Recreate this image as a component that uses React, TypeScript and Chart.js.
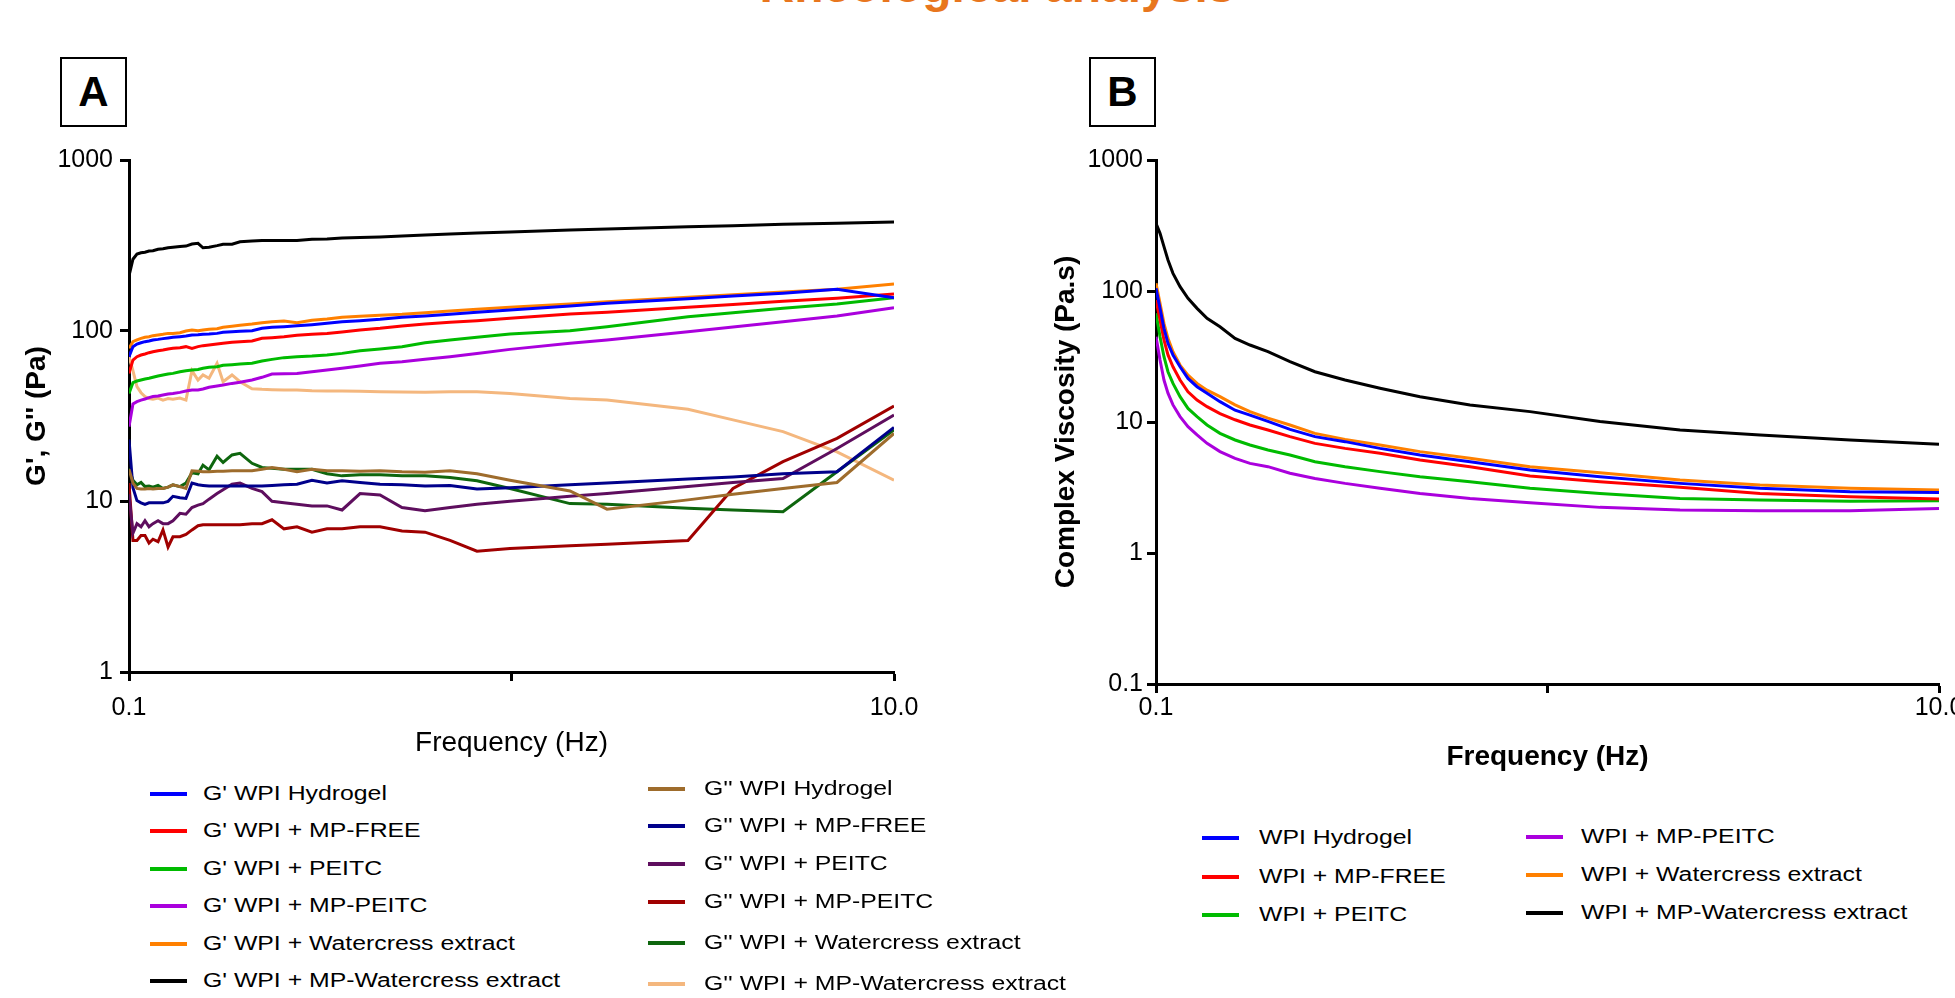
import React, { useEffect, useRef } from "react";
import { Chart, registerables } from "chart.js";

Chart.register(...registerables);

const FONT = '"Liberation Sans", Arial, Helvetica, sans-serif';

// ---------------- Panel A : G' and G'' (Pa) vs frequency (Hz) ----------------
const freqA = [
  0.1, 0.1024, 0.1049, 0.1075, 0.1101, 0.1128, 0.1155, 0.1191, 0.1227, 0.1265,
  0.1303, 0.1359, 0.1409, 0.1461, 0.1515, 0.1561, 0.1619, 0.1699, 0.1762, 0.1859,
  0.1951, 0.2097, 0.2227, 0.2365, 0.2542, 0.2749, 0.3008, 0.3294, 0.3606, 0.4018,
  0.4532, 0.5173, 0.5941, 0.6906, 0.8123, 0.991, 1.422, 1.777, 2.893, 3.794,
  5.126, 7.095, 10,
];

const gpHydrogel = [
  70.4, 80.6, 83.5, 85.0, 86.2, 87.0, 88.2, 88.9, 89.8, 90.6, 91.4, 92.2, 93.0, 94.3, 94.7, 95.2,
  95.6, 96.4, 97.8, 98.6, 99.1, 100.0, 103.2, 104.6, 105.5, 106.9, 108.4, 110.4, 112.9, 114.5,
  116.5, 119.7, 121.9, 124.6, 128.1, 132.2, 139.5, 144.6, 154.0, 159.7, 165.5, 174.7, 156.1,
];
const gpMpFree = [
  56.2, 67.3, 70.4, 72.0, 73.0, 74.3, 75.3, 76.3, 77.0, 78.1, 78.8, 79.5, 80.6, 78.8, 80.6, 81.7,
  82.4, 83.5, 84.3, 85.4, 86.2, 87.0, 90.2, 91.0, 92.2, 93.9, 95.2, 96.4, 98.2, 100.9,
  103.2, 106.5, 109.4, 111.9, 114.5, 118.1, 125.2, 128.1, 137.0, 142.3, 148.5, 154.7, 164.0,
];
const gpPeitc = [
  42.9, 49.6, 50.7, 51.4, 52.1, 52.6, 53.3, 54.2, 55.0, 55.7, 56.2, 57.5, 58.3, 58.8, 59.3, 60.2,
  61.0, 61.5, 62.7, 63.2, 63.8, 64.4, 66.4, 67.9, 69.5, 70.4, 71.0, 72.0, 73.6, 76.3,
  78.1, 80.6, 85.0, 88.2, 91.4, 95.6, 100.0, 105.5, 120.8, 127.5, 135.1, 143.3, 156.1,
];
const gpMpPeitc = [
  27.4, 37.2, 38.4, 39.2, 39.8, 40.5, 41.1, 41.4, 42.0, 42.6, 42.9, 43.5, 44.3, 44.9, 44.9, 45.5,
  46.6, 47.4, 48.0, 49.1, 49.8, 51.4, 53.3, 55.7, 56.0, 56.2, 57.5, 58.8, 60.2, 62.1,
  64.4, 65.8, 67.9, 70.4, 73.6, 77.7, 84.3, 88.2, 98.6, 105.1, 112.9, 121.9, 136.4,
];
const gpWatercress = [
  78.8, 86.2, 88.2, 90.2, 91.4, 92.2, 93.5, 94.3, 95.2, 96.4, 96.4, 97.3, 99.5, 100.9, 100.0, 100.9,
  101.8, 102.7, 104.6, 106.0, 107.5, 109.4, 111.4, 112.9, 113.9, 111.4, 115.0, 117.0, 119.7, 121.3,
  123.0, 124.6, 127.5, 130.4, 133.4, 137.0, 143.3, 147.9, 156.8, 162.2, 168.5, 174.7, 187.7,
];
const gpMpWatercress = [
  209, 262, 281, 286, 288, 293, 294, 300, 302, 306, 308, 311, 313, 322, 325, 306,
  308, 315, 321, 321, 332, 335, 337, 338, 337, 337, 343, 344, 349, 351,
  354, 359, 364, 368, 373, 379, 389, 394, 407, 412, 420, 426, 433,
];
const gppHydrogel = [
  15.4, 12.8, 11.9, 11.8, 11.8, 11.9, 11.8, 11.9, 11.9, 12.1, 12.5, 12.2, 11.9, 15.1, 15.0, 14.9,
  14.9, 15.0, 15.0, 15.1, 15.1, 15.1, 15.4, 15.8, 15.4, 14.9, 15.4, 15.1, 15.1, 15.0,
  15.1, 14.9, 14.8, 15.1, 14.5, 13.3, 11.5, 9.0, 10.2, 11.0, 11.9, 12.9, 25.0,
];
const gppMpFree = [
  23.0, 12.0, 10.1, 9.8, 9.6, 9.8, 9.8, 9.8, 9.8, 10.0, 10.7, 10.5, 10.4, 12.8, 12.5, 12.4,
  12.3, 12.3, 12.3, 12.3, 12.3, 12.3, 12.3, 12.4, 12.5, 12.6, 13.3, 12.8, 13.2, 12.9,
  12.6, 12.5, 12.3, 12.4, 11.8, 12.0, 12.5, 12.8, 13.5, 13.9, 14.5, 14.9, 27.1,
];
const gppPeitc = [
  11.0, 6.5, 7.4, 7.1, 7.7, 7.1, 7.4, 7.7, 7.4, 7.4, 7.7, 8.5, 8.4, 9.2, 9.5, 9.7,
  10.3, 11.1, 11.7, 12.6, 12.8, 11.9, 11.4, 10.0, 9.8, 9.6, 9.4, 9.4, 8.9, 11.1,
  10.9, 9.2, 8.8, 9.2, 9.6, 10.0, 10.7, 11.1, 12.2, 12.9, 13.6, 20.4, 32.0,
];
const gppMpPeitc = [
  12.8, 5.9, 5.9, 6.3, 6.3, 5.7, 6.0, 5.8, 6.8, 5.4, 6.2, 6.2, 6.4, 6.8, 7.2, 7.3,
  7.3, 7.3, 7.3, 7.3, 7.3, 7.4, 7.4, 7.8, 6.9, 7.1, 6.6, 6.9, 6.9, 7.1,
  7.1, 6.7, 6.6, 5.9, 5.1, 5.3, 5.5, 5.6, 5.9, 11.9, 17.1, 23.4, 36.2,
];
const gppWatercress = [
  15.6, 13.3, 12.5, 12.9, 12.2, 12.3, 12.1, 12.4, 11.9, 12.1, 12.5, 12.2, 12.8, 14.7, 14.5, 16.3,
  15.3, 18.4, 16.9, 18.7, 19.1, 16.7, 15.8, 15.6, 15.4, 15.4, 15.4, 14.5, 14.1, 14.3,
  14.3, 14.1, 14.1, 13.8, 13.2, 11.9, 9.7, 9.6, 9.1, 8.9, 8.7, 14.9, 26.2,
];
const gppMpWatercress = [
  70.4, 58.3, 47.0, 43.3, 41.1, 40.0, 39.6, 40.3, 39.2, 40.0, 39.6, 40.3, 39.2, 58.3, 51.4, 55.0,
  52.6, 64.4, 50.2, 55.0, 50.2, 45.7, 45.3, 45.1, 44.9, 44.9, 44.5, 44.3, 44.3, 44.1,
  43.9, 43.7, 43.5, 43.9, 43.9, 42.9, 40.1, 39.2, 34.6, 30.0, 25.6, 19.5, 13.3,
];

const labelsA = [
  "G' WPI Hydrogel",
  "G' WPI + MP-FREE",
  "G' WPI + PEITC",
  "G' WPI + MP-PEITC",
  "G' WPI + Watercress extract",
  "G' WPI + MP-Watercress extract",
  "G'' WPI Hydrogel",
  "G'' WPI + MP-FREE",
  "G'' WPI + PEITC",
  "G'' WPI + MP-PEITC",
  "G'' WPI + Watercress extract",
  "G'' WPI + MP-Watercress extract",
];
const colorsA = [
  "#0000FF", "#FF0000", "#00BB00", "#AA00DD", "#FF8000", "#000000",
  "#9E6C2C", "#00008B", "#5E0E5E", "#A00000", "#0E660E", "#F4B77E",
];
const valuesA = [
  gpHydrogel, gpMpFree, gpPeitc, gpMpPeitc, gpWatercress, gpMpWatercress,
  gppHydrogel, gppMpFree, gppPeitc, gppMpPeitc, gppWatercress, gppMpWatercress,
];

// ---------------- Panel B : complex viscosity (Pa.s) ----------------
const freqB = [
  0.1, 0.1024, 0.1048, 0.1073, 0.1105, 0.1152, 0.1207, 0.1273, 0.135, 0.1457,
  0.1592, 0.1738, 0.1932, 0.2199, 0.2547, 0.304, 0.3734, 0.4725, 0.634, 0.9023,
  1.362, 2.18, 3.49, 5.926, 10,
];
const etaHydrogel = [
  104.8, 73.7, 51.9, 39.9, 32.5, 26.4, 21.5, 18.6, 16.6, 14.3, 12.3, 11.3, 10.1,
  8.79, 7.73, 7.08, 6.29, 5.6, 4.98, 4.3, 3.82, 3.4, 3.12, 2.94, 2.89,
];
const etaMpFree = [
  85.4, 60.0, 42.3, 32.5, 26.4, 20.9, 17.0, 14.7, 13.1, 11.6, 10.4, 9.49, 8.69,
  7.73, 6.87, 6.29, 5.77, 5.13, 4.56, 3.87, 3.5, 3.17, 2.85, 2.69, 2.58,
];
const etaPeitc = [
  67.5, 44.8, 31.5, 24.2, 19.7, 15.6, 12.7, 11.0, 9.49, 8.19, 7.29, 6.67, 6.11,
  5.6, 4.98, 4.56, 4.18, 3.82, 3.5, 3.12, 2.85, 2.61, 2.54, 2.48, 2.5,
];
const etaMpPeitc = [
  44.8, 29.7, 20.9, 16.6, 13.5, 11.0, 9.21, 7.96, 6.87, 5.94, 5.28, 4.83, 4.56,
  4.06, 3.71, 3.4, 3.12, 2.85, 2.61, 2.42, 2.23, 2.13, 2.1, 2.1, 2.19,
];
const etaWatercress = [
  114.4, 80.5, 56.6, 43.5, 34.4, 27.2, 22.8, 19.7, 17.5, 15.6, 13.5, 12.0, 10.7,
  9.49, 8.19, 7.37, 6.67, 5.94, 5.28, 4.56, 4.1, 3.61, 3.3, 3.12, 3.03,
];
const etaMpWatercress = [
  328.5, 275.6, 218.0, 172.5, 136.4, 107.9, 87.9, 73.7, 61.8, 53.4, 43.5, 38.7, 34.4,
  28.9, 24.2, 20.9, 18.1, 15.6, 13.5, 12.0, 10.1, 8.7, 7.96, 7.29, 6.75,
];

const labelsB = [
  "WPI Hydrogel",
  "WPI + MP-FREE",
  "WPI + PEITC",
  "WPI + MP-PEITC",
  "WPI + Watercress extract",
  "WPI + MP-Watercress extract",
];
const colorsB = ["#0000FF", "#FF0000", "#00BB00", "#AA00DD", "#FF8000", "#000000"];
const valuesB = [etaHydrogel, etaMpFree, etaPeitc, etaMpPeitc, etaWatercress, etaMpWatercress];

// ---------------- ticks ----------------
const xTicks = [0.1, 1, 10];
const xTickLabels = ["0.1", "", "10.0"];
const yTicksA = [1, 10, 100, 1000];
const yTickLabelsA = ["1", "10", "100", "1000"];
const yTicksB = [0.1, 1, 10, 100, 1000];
const yTickLabelsB = ["0.1", "1", "10", "100", "1000"];

function labelFor(v: number, ticks: number[], labels: string[]) {
  for (let i = 0; i < ticks.length; i++) {
    if (Math.abs(Math.log10(v) - Math.log10(ticks[i])) < 1e-6) return labels[i];
  }
  return "";
}

function makeDatasets(freq: number[], values: number[][], labels: string[], colors: string[]) {
  return values.map((vals, k) => ({
    label: labels[k],
    data: freq.map((f, i) => ({ x: f, y: vals[i] })),
    borderColor: colors[k],
    backgroundColor: colors[k],
    borderWidth: 3,
    pointRadius: 0,
    pointHoverRadius: 0,
    tension: 0,
    fill: false,
  }));
}

type AxisOpts = {
  min: number;
  max: number;
  ticks: number[];
  labels: string[];
  fitSize: number;
  horizontal: boolean;
  tickPad: number;
  title: string;
  titleSize: number;
  titleBold: boolean;
  titlePad: any;
};

function logAxis(o: AxisOpts): any {
  return {
    type: "logarithmic",
    min: o.min,
    max: o.max,
    afterBuildTicks: (s: any) => {
      s.ticks = o.ticks.map((v) => ({ value: v }));
    },
    afterFit: (s: any) => {
      if (o.horizontal) s.height = o.fitSize;
      else s.width = o.fitSize;
      s.paddingLeft = 0;
      s.paddingRight = 0;
      s.paddingTop = 0;
      s.paddingBottom = 0;
    },
    ticks: {
      autoSkip: false,
      maxRotation: 0,
      minRotation: 0,
      padding: o.tickPad,
      color: "#000",
      font: { family: FONT, size: 25 },
      callback: (v: any) => labelFor(Number(v), o.ticks, o.labels),
    },
    grid: {
      display: true,
      drawOnChartArea: false,
      drawTicks: true,
      tickLength: 9,
      tickWidth: 3,
      tickColor: "#000",
    },
    border: { display: true, color: "#000", width: 3 },
    title: {
      display: true,
      text: o.title,
      color: "#000",
      font: { family: FONT, size: o.titleSize, weight: o.titleBold ? "bold" : "normal" },
      padding: o.titlePad,
    },
  };
}

const CANVAS_H = 780;

export default function App() {
  const refA = useRef<HTMLCanvasElement | null>(null);
  const refB = useRef<HTMLCanvasElement | null>(null);

  useEffect(() => {
    document.body.style.margin = "0";
    const common = {
      animation: false,
      responsive: false,
      maintainAspectRatio: false,
      events: [],
      plugins: { legend: { display: false }, tooltip: { enabled: false } },
    };
    const chartA = new Chart(refA.current as HTMLCanvasElement, {
      type: "line",
      data: { datasets: makeDatasets(freqA, valuesA, labelsA, colorsA) as any },
      options: {
        ...common,
        layout: { padding: { left: 0, top: 160, right: 66, bottom: 0 } },
        scales: {
          x: logAxis({
            min: 0.1, max: 10, ticks: xTicks, labels: xTickLabels,
            fitSize: CANVAS_H - 672, horizontal: true, tickPad: 12,
            title: "Frequency (Hz)", titleSize: 28, titleBold: false,
            titlePad: { top: 0, bottom: 20 },
          }),
          y: logAxis({
            min: 1, max: 1000, ticks: yTicksA, labels: yTickLabelsA,
            fitSize: 129, horizontal: false, tickPad: 7,
            title: "G', G'' (Pa)", titleSize: 28, titleBold: true,
            titlePad: { top: 20, bottom: 0 },
          }),
        },
      } as any,
    });
    const chartB = new Chart(refB.current as HTMLCanvasElement, {
      type: "line",
      data: { datasets: makeDatasets(freqB, valuesB, labelsB, colorsB) as any },
      options: {
        ...common,
        layout: { padding: { left: 0, top: 160, right: 16, bottom: 0 } },
        scales: {
          x: logAxis({
            min: 0.1, max: 10, ticks: xTicks, labels: xTickLabels,
            fitSize: CANVAS_H - 684, horizontal: true, tickPad: 0,
            title: "Frequency (Hz)", titleSize: 28, titleBold: true,
            titlePad: { top: 0, bottom: 6 },
          }),
          y: logAxis({
            min: 0.1, max: 1000, ticks: yTicksB, labels: yTickLabelsB,
            fitSize: 196, horizontal: false, tickPad: 4,
            title: "Complex Viscosity (Pa.s)", titleSize: 28, titleBold: true,
            titlePad: { top: 89, bottom: 0 },
          }),
        },
      } as any,
    });
    return () => {
      chartA.destroy();
      chartB.destroy();
    };
  }, []);

  const legendA = labelsA.map((label, i) => {
    const col = i < 6 ? 0 : 1;
    const rowsY = col === 0 ? [794, 831, 869, 906, 944, 981] : [789, 826, 864, 902, 943, 984];
    return { label, color: colorsA[i], lineX: col === 0 ? 150 : 648, textX: col === 0 ? 203 : 704, y: rowsY[i % 6] };
  });
  const legendB = labelsB.map((label, i) => {
    const col = i < 3 ? 0 : 1;
    const rowsY = col === 0 ? [838, 877, 915] : [837, 875, 913];
    return { label, color: colorsB[i], lineX: col === 0 ? 1202 : 1526, textX: col === 0 ? 1259 : 1581, y: rowsY[i % 3] };
  });
  const items = [...legendA, ...legendB];

  const boxStyle = (left: number): React.CSSProperties => ({
    position: "absolute",
    left,
    top: 57,
    width: 63,
    height: 66,
    border: "2px solid #000",
    background: "#fff",
    fontFamily: FONT,
    fontWeight: "bold",
    fontSize: 42,
    lineHeight: "66px",
    textAlign: "center",
    color: "#000",
  });

  return (
    <div
      style={{
        position: "absolute",
        left: 0,
        top: 0,
        width: 1955,
        height: 998,
        overflow: "hidden",
        background: "#fff",
      }}
    >
      <div
        style={{
          position: "absolute",
          left: 997,
          top: -38,
          transform: "translateX(-50%)",
          fontFamily: FONT,
          fontWeight: "bold",
          fontSize: 48,
          lineHeight: "48px",
          color: "#E8761E",
          whiteSpace: "nowrap",
        }}
      >
        Rheological analysis
      </div>
      <canvas
        ref={refA}
        width={960}
        height={CANVAS_H}
        style={{ position: "absolute", left: 0, top: 0, width: 960, height: CANVAS_H }}
      />
      <canvas
        ref={refB}
        width={995}
        height={CANVAS_H}
        style={{ position: "absolute", left: 960, top: 0, width: 995, height: CANVAS_H }}
      />
      <div style={boxStyle(60)}>A</div>
      <div style={boxStyle(1089)}>B</div>
      {items.map((it, i) => (
        <React.Fragment key={i}>
          <div
            style={{
              position: "absolute",
              left: it.lineX,
              top: it.y - 2,
              width: 37,
              height: 4,
              background: it.color,
            }}
          />
          <div
            style={{
              position: "absolute",
              left: it.textX,
              top: it.y - 11,
              fontFamily: FONT,
              fontSize: 20,
              lineHeight: "20px",
              whiteSpace: "nowrap",
              color: "#000",
              transform: "scaleX(1.24)",
              transformOrigin: "0 50%",
            }}
          >
            {it.label}
          </div>
        </React.Fragment>
      ))}
    </div>
  );
}
